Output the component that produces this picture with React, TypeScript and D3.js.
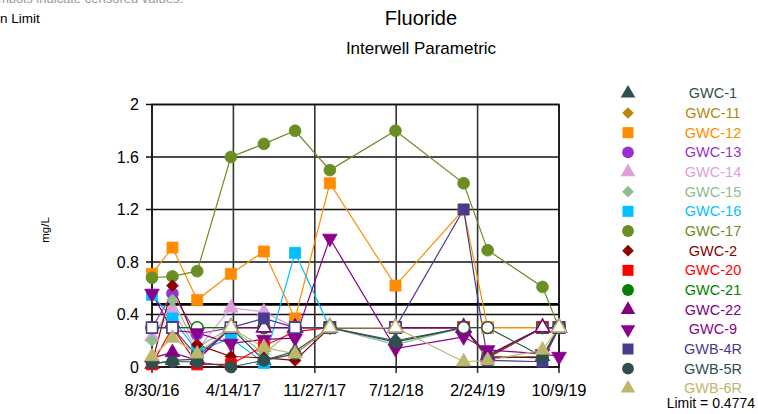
import React from "react";
import * as d3 from "d3";

// sample dates (x positions of the points)
const sampleDates = [
  "2016-08-30", "2016-10-26", "2017-01-03", "2017-04-07", "2017-07-08", "2017-10-03",
  "2018-01-08", "2018-07-10", "2019-01-16", "2019-03-24", "2019-08-24", "2019-10-09",
];

const tickDates = ["2016-08-30", "2017-04-14", "2017-11-27", "2018-07-12", "2019-02-24", "2019-10-09"];
const tickLabels = ["8/30/16", "4/14/17", "11/27/17", "7/12/18", "2/24/19", "10/9/19"];
const yTicks = [0, 0.4, 0.8, 1.2, 1.6, 2];
const yTickLabels = ["0", "0.4", "0.8", "1.2", "1.6", "2"];

const limitValue = 0.4774;

// series values (mg/L), one per sample date
const gwc1 = [0.02, 0.05, 0.06, 0.3, 0.05, 0.12, 0.3, 0.2, 0.3, 0.07, 0.08, 0.3];
const gwc11 = [0.3, 0.3, 0.3, 0.3, 0.3, 0.3, 0.3, 0.3, 0.3, 0.3, 0.3, 0.3];
const gwc12 = [0.71, 0.91, 0.51, 0.71, 0.88, 0.37, 1.4, 0.62, 1.2, 0.3, 0.3, 0.3];
const gwc13 = [0.3, 0.56, 0.25, 0.3, 0.3, 0.3, 0.3, 0.3, 0.3, 0.07, 0.3, 0.3];
const gwc14 = [0.23, 0.43, 0.13, 0.45, 0.42, 0.3, 0.3, 0.3, 0.3, 0.07, 0.3, 0.3];
const gwc15 = [0.2, 0.51, 0.15, 0.3, 0.1, 0.3, 0.3, 0.17, 0.3, 0.08, 0.3, 0.3];
const gwc16 = [0.55, 0.37, 0.12, 0.22, 0.03, 0.87, 0.3, 0.3, 0.3, 0.08, 0.3, 0.3];
const gwc17 = [0.68, 0.69, 0.73, 1.6, 1.7, 1.8, 1.5, 1.8, 1.4, 0.89, 0.61, 0.3];
const gwc2 = [0.03, 0.62, 0.17, 0.08, 0.07, 0.05, 0.3, 0.3, 0.3, 0.08, 0.07, 0.3];
const gwc20 = [0.02, 0.3, 0.02, 0.02, 0.16, 0.27, 0.3, 0.3, 0.3, 0.07, 0.3, 0.3];
const gwc21 = [0.3, 0.3, 0.3, 0.3, 0.3, 0.3, 0.3, 0.3, 0.3, 0.08, 0.3, 0.3];
const gwc22 = [0.07, 0.11, 0.05, 0.3, 0.3, 0.3, 0.3, 0.3, 0.3, 0.09, 0.3, 0.3];
const gwc9 = [0.56, 0.28, 0.26, 0.18, 0.21, 0.22, 0.98, 0.14, 0.23, 0.13, 0.1, 0.08];
const gwb4r = [0.3, 0.3, 0.08, 0.3, 0.37, 0.3, 0.3, 0.3, 1.2, 0.05, 0.04, 0.3];
const gwb5r = [0.03, 0.04, 0.04, 0.0, 0.05, 0.1, 0.3, 0.19, 0.3, 0.3, 0.08, 0.3];
const gwb6r = [0.08, 0.22, 0.1, 0.3, 0.15, 0.1, 0.3, 0.3, 0.04, 0.05, 0.13, 0.3];

// indexes of non-detects (hollow symbols)
const gwc1ND = [3, 6, 8, 11];
const gwc11ND = [0, 1, 2, 3, 4, 5, 6, 7, 8, 9, 10, 11];
const gwc12ND = [9, 10, 11];
const gwc13ND = [0, 3, 4, 5, 6, 7, 8, 10, 11];
const gwc14ND = [5, 6, 7, 8, 10, 11];
const gwc15ND = [3, 5, 6, 8, 10, 11];
const gwc16ND = [6, 7, 8, 10, 11];
const gwc17ND: number[] = [];
const gwc2ND = [6, 7, 8, 11];
const gwc20ND = [1, 6, 7, 8, 10, 11];
const gwc21ND = [0, 1, 2, 3, 4, 5, 6, 7, 8, 10, 11];
const gwc22ND = [3, 4, 5, 6, 7, 8, 10, 11];
const gwc9ND: number[] = [];
const gwb4rND = [0, 1, 3, 5, 6, 7, 11];
const gwb5rND = [6, 8, 9, 11];
const gwb6rND = [3, 6, 7, 11];

const series = [
  { name: "GWC-1", color: "#2f4f4f", shape: "tri", values: gwc1, nd: gwc1ND },
  { name: "GWC-11", color: "#b8860b", shape: "dia", values: gwc11, nd: gwc11ND },
  { name: "GWC-12", color: "#ff8c00", shape: "sq", values: gwc12, nd: gwc12ND },
  { name: "GWC-13", color: "#9932cc", shape: "circ", values: gwc13, nd: gwc13ND },
  { name: "GWC-14", color: "#dda0dd", shape: "tri", values: gwc14, nd: gwc14ND },
  { name: "GWC-15", color: "#8fbc8f", shape: "dia", values: gwc15, nd: gwc15ND },
  { name: "GWC-16", color: "#00bfff", shape: "sq", values: gwc16, nd: gwc16ND },
  { name: "GWC-17", color: "#6b8e23", shape: "circ", values: gwc17, nd: gwc17ND },
  { name: "GWC-2", color: "#8b0000", shape: "dia", values: gwc2, nd: gwc2ND },
  { name: "GWC-20", color: "#ff0000", shape: "sq", values: gwc20, nd: gwc20ND },
  { name: "GWC-21", color: "#008000", shape: "circ", values: gwc21, nd: gwc21ND },
  { name: "GWC-22", color: "#800080", shape: "tri", values: gwc22, nd: gwc22ND },
  { name: "GWC-9", color: "#8b008b", shape: "down", values: gwc9, nd: gwc9ND },
  { name: "GWB-4R", color: "#483d8b", shape: "sq", values: gwb4r, nd: gwb4rND },
  { name: "GWB-5R", color: "#2f4f4f", shape: "circ", values: gwb5r, nd: gwb5rND },
  { name: "GWB-6R", color: "#bdb76b", shape: "tri", values: gwb6r, nd: gwb6rND },
];

const parse = d3.timeParse("%Y-%m-%d");
const font = "Arial, 'Liberation Sans', sans-serif";

const symbolPath = (shape: string) => {
  if (shape === "sq") return d3.symbol(d3.symbolSquare, 121)()!;
  if (shape === "circ") return d3.symbol(d3.symbolCircle, 110)()!;
  if (shape === "dia") return d3.symbol(d3.symbolSquare, 68)()!;
  return d3.symbol(d3.symbolTriangle, 92)()!;
};

const symbolRotate = (shape: string) => (shape === "dia" ? 45 : shape === "down" ? 180 : 0);

const App: React.FC = () => {
  const width = 758;
  const height = 414;
  const left = 152, right = 559, top = 104.5, bottom = 367;

  const x = d3.scaleTime()
    .domain([parse(tickDates[0])!, parse(tickDates[tickDates.length - 1])!])
    .range([left, right]);
  const y = d3.scaleLinear().domain([0, 2]).range([bottom, top]);

  const dates = sampleDates.map((d) => parse(d)!);
  const line = d3.line<[Date, number]>()
    .x((d) => x(d[0]))
    .y((d) => y(d[1]));

  const legendX = 628;
  const legendTextX = 713;
  const legendY0 = 93.3;
  const legendStep = 19.67;

  return (
    <svg width={width} height={height} style={{ position: "absolute", left: 0, top: 0, background: "#fff" }}>
      <text x={183} y={3} textAnchor="end" fontFamily={font} fontSize={13} fill="#999">
        ly. Hollow symbols indicate censored values.
      </text>
      <text x={0} y={23} fontFamily={font} fontSize={13.5} fill="#000">n Limit</text>

      <text x={421} y={25} textAnchor="middle" fontFamily={font} fontSize={20} fill="#000">Fluoride</text>
      <text x={421} y={54} textAnchor="middle" fontFamily={font} fontSize={17} fill="#000">Interwell Parametric</text>

      <text transform={`translate(49,230) rotate(-90)`} textAnchor="middle" fontFamily={font} fontSize={11.5} fill="#000">mg/L</text>

      {/* grid */}
      {yTicks.map((t, i) => (
        <g key={"yt" + i}>
          <line x1={left - 6} x2={right} y1={y(t)} y2={y(t)} stroke="#111" strokeWidth={1.6} />
          <text x={139} y={y(t) + 5.5} textAnchor="end" fontFamily={font} fontSize={16} fill="#000">{yTickLabels[i]}</text>
        </g>
      ))}
      {tickDates.map((t, i) => (
        <g key={"xt" + i}>
          <line x1={x(parse(t)!)} x2={x(parse(t)!)} y1={top} y2={bottom + 6} stroke="#333" strokeWidth={1.6} />
          <text x={x(parse(t)!)} y={396} textAnchor="middle" fontFamily={font} fontSize={16.5} fill="#000">{tickLabels[i]}</text>
        </g>
      ))}
      <rect x={left} y={top} width={right - left} height={bottom - top} fill="none" stroke="#111" strokeWidth={1.6} />

      {/* limit */}
      <line x1={left} x2={right} y1={y(limitValue)} y2={y(limitValue)} stroke="#000" strokeWidth={2.6} />

      {/* series lines */}
      {series.map((s) => (
        <path
          key={"l" + s.name}
          d={line(dates.map((d, i) => [d, s.values[i]] as [Date, number]))!}
          fill="none"
          stroke={s.color}
          strokeWidth={1.2}
        />
      ))}

      {/* markers */}
      {series.map((s) => (
        <g key={"m" + s.name}>
          {s.values.map((v, i) => {
            const hollow = s.nd.includes(i);
            return (
              <path
                key={i}
                d={symbolPath(s.shape)}
                transform={`translate(${x(dates[i])},${y(v)}) rotate(${symbolRotate(s.shape)})`}
                fill={hollow ? "#fff" : s.color}
                stroke={s.color}
                strokeWidth={hollow ? 1.6 : 0.8}
              />
            );
          })}
        </g>
      ))}

      {/* legend */}
      {series.map((s, i) => (
        <g key={"lg" + s.name}>
          <path
            d={symbolPath(s.shape)}
            transform={`translate(${legendX},${legendY0 + i * legendStep}) rotate(${symbolRotate(s.shape)})`}
            fill={s.color}
          />
          <text x={legendTextX} y={legendY0 + i * legendStep + 5} textAnchor="middle" fontFamily={font} fontSize={14.5} fill={s.color}>
            {s.name}
          </text>
        </g>
      ))}
      <text x={755} y={408} textAnchor="end" fontFamily={font} fontSize={14} fill="#000">Limit = 0.4774</text>
    </svg>
  );
};

export default App;
